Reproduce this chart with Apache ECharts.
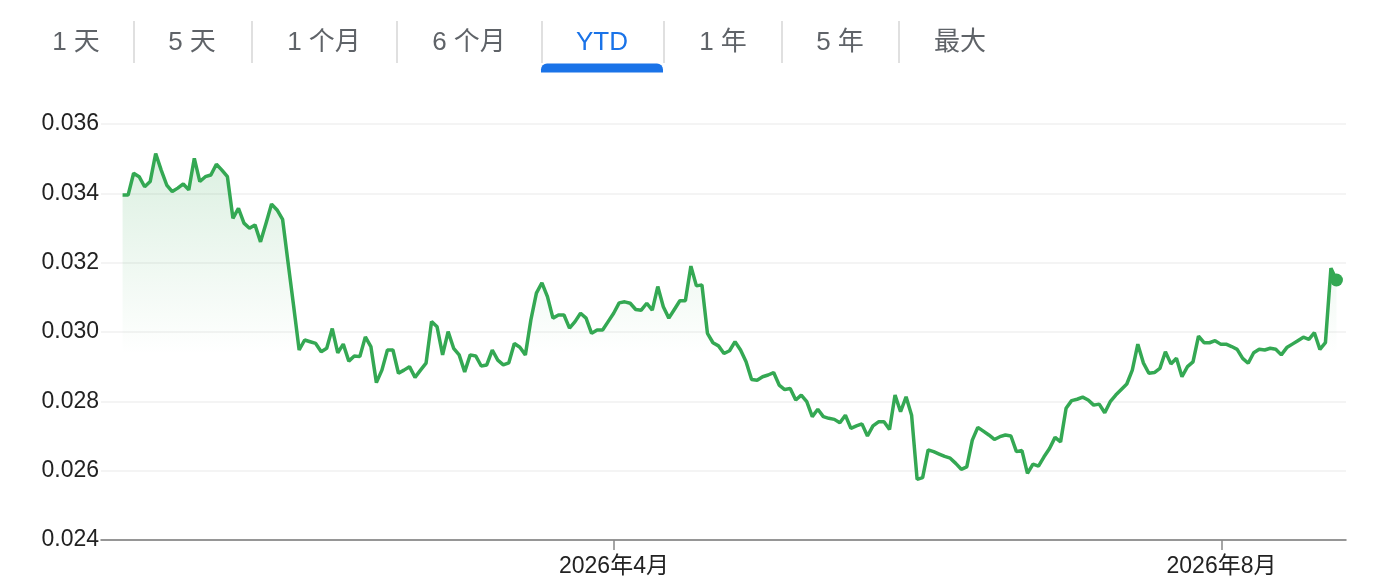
<!DOCTYPE html>
<html>
<head>
<meta charset="utf-8">
<script src="https://cdn.jsdelivr.net/npm/echarts@6/dist/echarts.min.js"></script>
<style>
  html, body { margin: 0; padding: 0; background: #fff; }
  #chart { width: 1376px; height: 586px; }
</style>
</head>
<body>
<div id="chart"></div>
<script>
// ---- data ----
const tabLabels = ['1 天', '5 天', '1 个月', '6 个月', 'YTD', '1 年', '5 年', '最大'];
const activeTab = 'YTD';

const firstTime = '2025-12-23T08:00:00';
const lastTime = '2026-08-24T02:00:00';
const axisStart = '2025-12-19T00:00:00';
const axisEnd = '2026-08-26T00:00:00';

const tickDates = ['2026-04-01T00:00:00', '2026-08-01T00:00:00'];
const tickLabels = ['2026年4月', '2026年8月'];

const yTicks = { min: 0.024, max: 0.036, interval: 0.002 };

const values = [
  0.03395, 0.03395, 0.03458, 0.03448, 0.03419, 0.03434, 0.03515, 0.03467, 0.03424, 0.03405,
  0.03415, 0.03427, 0.03410, 0.03501, 0.03434, 0.03448, 0.03453, 0.03484, 0.03467, 0.03448,
  0.03328, 0.03357, 0.03314, 0.03299, 0.03309, 0.03260, 0.03314, 0.03369, 0.03352, 0.03325,
  0.03199, 0.03075,
  0.02948, 0.02977, 0.02972, 0.02967, 0.02943, 0.02953, 0.03010, 0.02940, 0.02965, 0.02916,
  0.02931, 0.02929, 0.02986, 0.02958, 0.02854, 0.02890, 0.02948, 0.02948, 0.02881, 0.02890,
  0.02900, 0.02869, 0.02890,
  0.02910, 0.03030, 0.03015, 0.02934, 0.03001, 0.02953, 0.02934, 0.02885, 0.02934, 0.02931,
  0.02902, 0.02905, 0.02948, 0.02919, 0.02905, 0.02911, 0.02967, 0.02956, 0.02934, 0.03035,
  0.03112, 0.03142, 0.03102, 0.03040, 0.03049, 0.03049, 0.03011, 0.03030, 0.03054, 0.03040,
  0.02996, 0.03006, 0.03006, 0.03030, 0.03054, 0.03084, 0.03087, 0.03083, 0.03065, 0.03063,
  0.03083, 0.03063, 0.03131, 0.03073, 0.03040, 0.03065, 0.03090, 0.03090, 0.03190, 0.03133,
  0.03136, 0.02996,
  0.02969, 0.02960, 0.02938, 0.02946, 0.02972, 0.02948, 0.02914, 0.02863, 0.02861, 0.02871,
  0.02876, 0.02883, 0.02847, 0.02834, 0.02837, 0.02804, 0.02818, 0.02799, 0.02756, 0.02777,
  0.02756, 0.02751, 0.02748, 0.02738, 0.02760, 0.02722, 0.02729, 0.02735, 0.02700, 0.02729,
  0.02741, 0.02741, 0.02719, 0.02818, 0.02770, 0.02813, 0.02760, 0.02575, 0.02580, 0.02660,
  0.02655, 0.02648, 0.02641, 0.02636, 0.02621, 0.02604, 0.02611, 0.02688, 0.02725, 0.02714,
  0.02703, 0.02690, 0.02698, 0.02703, 0.02700, 0.02655, 0.02658, 0.02592, 0.02619, 0.02613,
  0.02640, 0.02664, 0.02696, 0.02683, 0.02780, 0.02802, 0.02806, 0.02812, 0.02804, 0.02789,
  0.02792, 0.02767, 0.02799, 0.02818, 0.02834, 0.02850, 0.02890, 0.02965, 0.02911, 0.02881,
  0.02883, 0.02895, 0.02943, 0.02908, 0.02924, 0.02871, 0.02900, 0.02914, 0.02988, 0.02969,
  0.02969, 0.02975, 0.02965, 0.02965, 0.02958, 0.02950, 0.02924, 0.02910, 0.02940, 0.02950,
  0.02948, 0.02953, 0.02950, 0.02934, 0.02955, 0.02965, 0.02975, 0.02985, 0.02979, 0.02998,
  0.02950, 0.02969, 0.03184, 0.03150
];

// ---- build ----
const t0 = new Date(firstTime).getTime();
const t1 = new Date(lastTime).getTime();
const step = (t1 - t0) / (values.length - 1);
const seriesData = values.map((v, i) => [t0 + i * step, v]);
const lastPoint = seriesData[seriesData.length - 1];
const tickTimes = tickDates.map(d => new Date(d).getTime());

const FONT = '"Liberation Sans", Arial, "Noto Sans CJK SC", sans-serif';
const GREEN = '#34a853';

// tabs graphic
const tabCenters = [76, 192, 324, 469, 602, 723, 840, 960];
const sepXs = [134, 252, 397, 542, 664, 782, 899];
const graphics = [];
tabLabels.forEach((t, i) => {
  graphics.push({
    type: 'text', x: tabCenters[i], y: 43,
    style: {
      text: t, align: 'center', verticalAlign: 'middle',
      fontSize: 26, fontFamily: FONT,
      fill: t === activeTab ? '#1a73e8' : '#5f6368'
    }
  });
});
sepXs.forEach(x => {
  graphics.push({
    type: 'line', shape: { x1: x, y1: 21, x2: x, y2: 63 },
    style: { stroke: '#d6d6d6', lineWidth: 1.5 }
  });
});
graphics.push({
  type: 'rect', shape: { x: 541, y: 63.5, width: 122, height: 9, r: [6, 6, 0, 0] },
  style: { fill: '#1a73e8' }
});

const chart = echarts.init(document.getElementById('chart'));
chart.setOption({
  animation: false,
  backgroundColor: '#fff',
  graphic: graphics,
  grid: { left: 101, right: 30, top: 124, bottom: 46 },
  xAxis: {
    type: 'value',
    min: new Date(axisStart).getTime(),
    max: new Date(axisEnd).getTime(),
    axisLine: { show: true, lineStyle: { color: '#777', width: 1.5 } },
    axisTick: { show: true, customValues: tickTimes, length: 10, lineStyle: { color: '#888', width: 1.5 } },
    axisLabel: {
      customValues: tickTimes,
      formatter: (val) => {
        const idx = tickTimes.indexOf(val);
        return idx >= 0 ? tickLabels[idx] : '';
      },
      color: '#222', fontSize: 23, fontFamily: FONT, margin: 15
    },
    splitLine: { show: false }
  },
  yAxis: {
    type: 'value',
    min: yTicks.min, max: yTicks.max, interval: yTicks.interval,
    axisLine: { show: false },
    axisTick: { show: false },
    axisLabel: {
      formatter: (v) => v.toFixed(3),
      color: '#222', fontSize: 23, fontFamily: FONT, margin: 2
    },
    splitLine: { show: true, lineStyle: { color: '#f0f0f0', width: 1.5 } }
  },
  series: [
    {
      type: 'line',
      data: seriesData,
      symbol: 'none',
      lineStyle: { color: GREEN, width: 3.5 },
      areaStyle: {
        color: new echarts.graphic.LinearGradient(0, 0, 0, 1, [
          { offset: 0, color: 'rgba(52,168,83,0.25)' },
          { offset: 0.52, color: 'rgba(52,168,83,0)' },
          { offset: 1, color: 'rgba(52,168,83,0)' }
        ])
      },
      z: 2
    },
    {
      type: 'scatter',
      data: [lastPoint],
      symbol: 'circle',
      symbolSize: 13,
      itemStyle: { color: GREEN, opacity: 1 },
      z: 3
    }
  ]
});
</script>
</body>
</html>
